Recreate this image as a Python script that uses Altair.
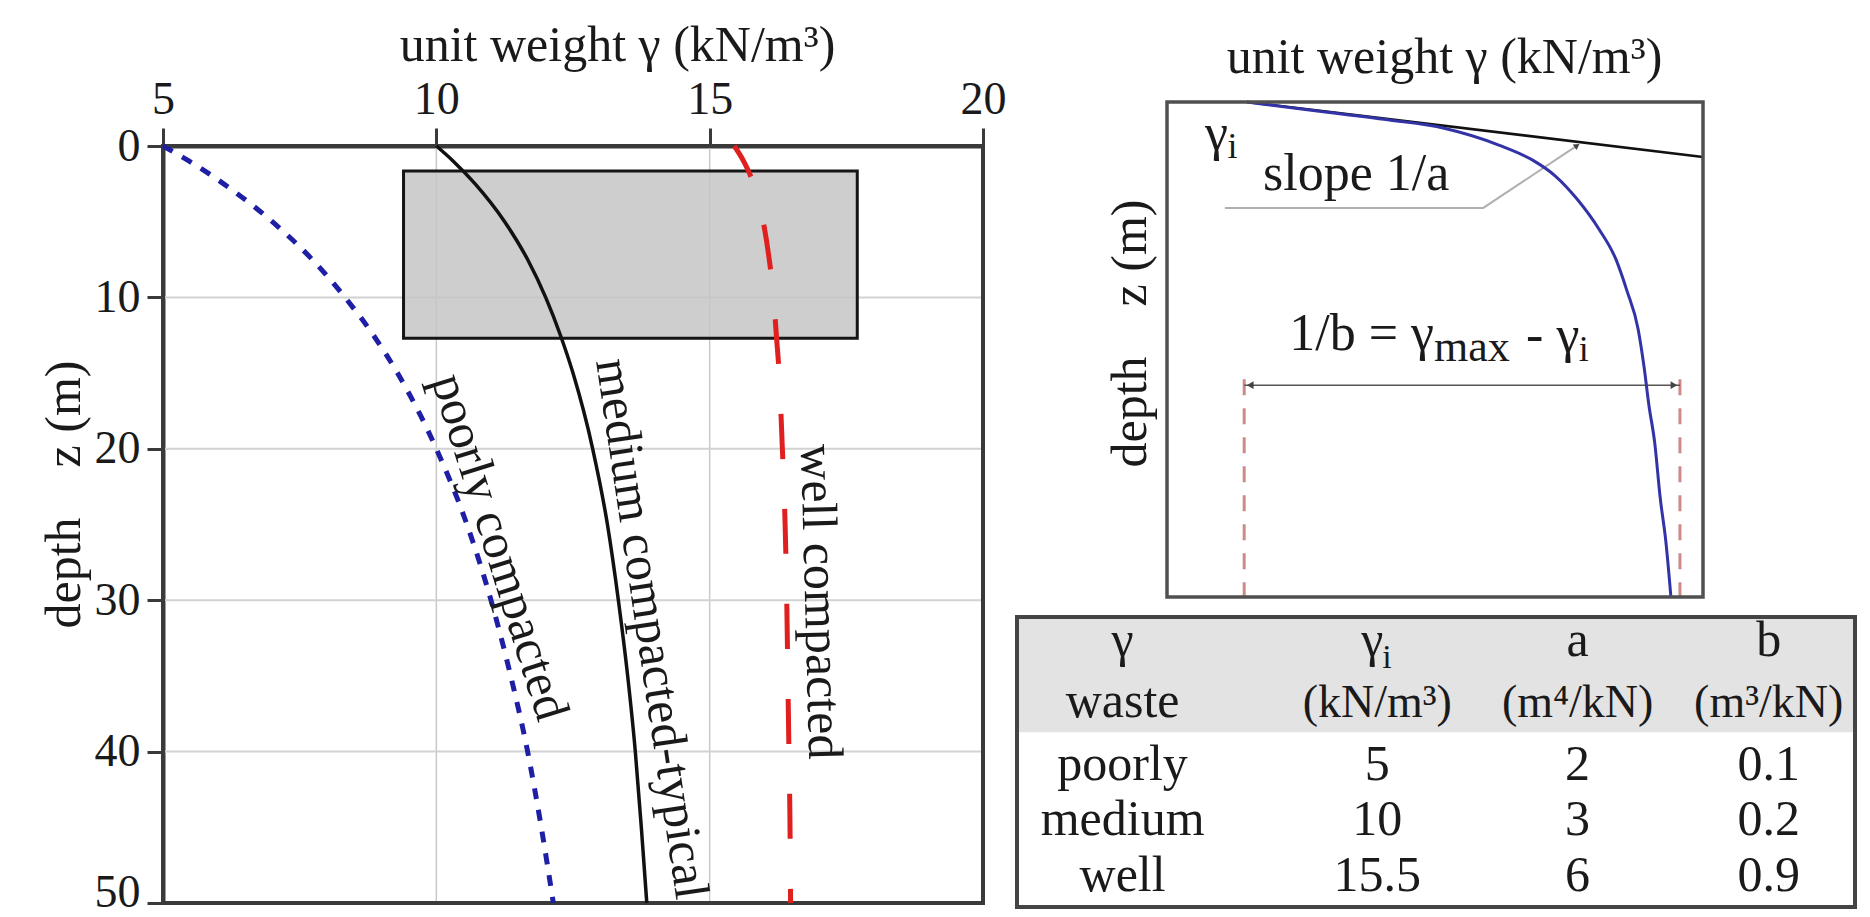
import altair as alt
import pandas as pd

FONT = "Liberation Serif"
INK = "#1a1a1a"
FRAME = "#3a3a3a"

# ---------------- left panel: unit weight vs depth ----------------
DEPTH_M = [0, 1, 2.5, 5, 7.5, 10, 12.5, 15, 20, 25, 30, 35, 40, 45, 50]
GAMMA_POORLY = [5.00, 5.48, 6.11, 7.00, 7.73, 8.33, 8.85, 9.29, 10.00, 10.56, 11.00, 11.36, 11.67, 11.92, 12.14]
GAMMA_MEDIUM = [10.00, 10.31, 10.71, 11.25, 11.67, 12.00, 12.27, 12.50, 12.86, 13.13, 13.33, 13.50, 13.64, 13.75, 13.85]
GAMMA_WELL = [15.45, 15.62, 15.80, 15.98, 16.09, 16.17, 16.22, 16.27, 16.33, 16.38, 16.41, 16.43, 16.45, 16.47, 16.48]

X_TICKS = [5, 10, 15, 20]
Y_TICKS = [0, 10, 20, 30, 40, 50]

TYPICAL_GAMMA = [9.4, 17.7]
TYPICAL_DEPTH = [1.65, 12.7]

CURVE_NAMES = ["poorly compacted", "medium compacted-typical", "well compacted"]
CURVE_LABEL_GAMMA = [11.15, 13.93, 17.02]
CURVE_LABEL_DEPTH = [26.5, 31.9, 30.1]
CURVE_LABEL_ANGLE = [72.7, 81.5, 88.5]

# ---------------- right panel: schematic (normalised 0-100 units) ----------------
SCHEM_GAMMA = [14.9, 28.0, 41.2, 51.7, 61.9, 68.3, 72.4, 76.5, 80.6, 83.8, 85.8, 87.9, 89.0, 89.9, 91.0, 92.0, 93.1, 94.0]
SCHEM_DEPTH = [0.0, 1.8, 3.6, 5.3, 8.7, 11.8, 14.9, 19.6, 25.7, 31.9, 38.1, 45.9, 53.5, 61.2, 68.9, 79.8, 89.1, 99.8]
TANGENT_GAMMA = [14.9, 100.0]
TANGENT_DEPTH = [0.0, 11.1]
LEADER_GAMMA = [10.8, 59.0, 76.5]
LEADER_DEPTH = [21.4, 21.4, 8.8]
GAMMA_I_MARK = 14.4
GAMMA_MAX_MARK = 95.7
MARKER_DEPTH = [56.0, 100.0]
DIM_DEPTH = 57.2

# ---------------- table ----------------
WASTE = ["poorly", "medium", "well"]
GAMMA_I = [5, 10, 15.5]
A_PARAM = [2, 3, 6]
B_PARAM = [0.1, 0.2, 0.9]
HEAD_SYMBOL = ["γ", "γ", "a", "b"]
HEAD_UNIT = ["waste", "(kN/m³)", "(m⁴/kN)", "(m³/kN)"]

# ---------------- layout (pixels / normalised units) ----------------
UNIT = [0, 100]
LEFT_X_RANGE = [163, 983]
LEFT_Y_RANGE = [146, 903]
RIGHT_X_RANGE = [1167, 1703]
RIGHT_Y_RANGE = [102, 597]
TABLE_X_RANGE = [1017, 1855]
TABLE_Y_RANGE = [617, 907]
TABLE_COL_X = [12.6, 43.0, 66.9, 89.7]
TABLE_HEAD_BASE = [13.4, 34.5]
TABLE_ROW_BASE = [56.2, 75.2, 94.5]
TABLE_HEAD_BOTTOM = 39.7


def sc(domain, rng):
    return alt.Scale(domain=domain, range=rng, nice=False, zero=False)


xs_l = sc([X_TICKS[0], X_TICKS[-1]], LEFT_X_RANGE)
ys_l = sc([Y_TICKS[0], Y_TICKS[-1]], LEFT_Y_RANGE)
xs_r = sc(UNIT, RIGHT_X_RANGE)
ys_r = sc(UNIT, RIGHT_Y_RANGE)
xs_t = sc(UNIT, TABLE_X_RANGE)
ys_t = sc(UNIT, TABLE_Y_RANGE)


def X(field, scale):
    return alt.X(field, scale=scale, axis=None)


def Y(field, scale):
    return alt.Y(field, scale=scale, axis=None)


def texts(df, xs, ys, size, align="left", baseline="alphabetic", color=INK):
    return alt.Chart(df).mark_text(font=FONT, fontSize=size, align=align,
                                   baseline=baseline, color=color).encode(
        x=X("x:Q", xs), y=Y("y:Q", ys), text="t:N")


# ================= LEFT PANEL =================
frame_df = pd.DataFrame({"g0": [X_TICKS[0]], "g1": [X_TICKS[-1]],
                         "z0": [Y_TICKS[0]], "z1": [Y_TICKS[-1]]})
frame_l = alt.Chart(frame_df).mark_rect(fill="white", fillOpacity=0, stroke=FRAME, strokeWidth=4).encode(
    x=alt.X("g0:Q", scale=xs_l, axis=alt.Axis(
        orient="top", offset=-LEFT_Y_RANGE[0], values=X_TICKS, format="d", grid=False,
        domain=True, domainColor=FRAME, domainWidth=4,
        ticks=True, tickSize=18, tickColor=FRAME, tickWidth=3,
        labelFont=FONT, labelFontSize=46, labelColor=INK, labelPadding=5,
        labelFlush=False, labelOverlap=False,
        title="unit weight γ (kN/m³)", titleFont=FONT, titleFontSize=50,
        titleFontWeight="normal", titleColor=INK, titleX=617, titleY=-86,
        titleAlign="center", titleBaseline="alphabetic")),
    x2="g1:Q",
    y=alt.Y("z0:Q", scale=ys_l, axis=alt.Axis(
        orient="left", offset=-LEFT_X_RANGE[0], values=Y_TICKS, format="d", grid=False,
        domain=True, domainColor=FRAME, domainWidth=4,
        ticks=True, tickSize=16, tickColor=FRAME, tickWidth=3,
        labelFont=FONT, labelFontSize=46, labelColor=INK, labelPadding=7,
        labelOverlap=False,
        labelOffset={"condition": {"test": f"datum.value == {Y_TICKS[-1]}", "value": -11}, "value": 0},
        title="depth\u00a0\u00a0\u00a0\u00a0z (m)", titleFont=FONT, titleFontSize=50,
        titleFontWeight="normal", titleColor=INK, titleAngle=270,
        titleX=-99, titleY=494, titleAlign="center", titleBaseline="middle")),
    y2="z1:Q",
)

vgrid = alt.Chart(pd.DataFrame({"g": X_TICKS[1:-1], "z0": Y_TICKS[0], "z1": Y_TICKS[-1]})).mark_rule(
    color="#c9c9c9", strokeWidth=1.5).encode(x=X("g:Q", xs_l), y=Y("z0:Q", ys_l), y2="z1:Q")
hgrid = alt.Chart(pd.DataFrame({"z": Y_TICKS[1:-1], "g0": X_TICKS[0], "g1": X_TICKS[-1]})).mark_rule(
    color="#d2d2d2", strokeWidth=2).encode(y=Y("z:Q", ys_l), x=X("g0:Q", xs_l), x2="g1:Q")

typ_df = pd.DataFrame({"g0": [TYPICAL_GAMMA[0]], "g1": [TYPICAL_GAMMA[1]],
                       "z0": [TYPICAL_DEPTH[0]], "z1": [TYPICAL_DEPTH[1]]})
typ_box = alt.Chart(typ_df).mark_rect(fill="#c6c6c6", fillOpacity=0.85, stroke="#151515", strokeWidth=3).encode(
    x=X("g0:Q", xs_l), x2="g1:Q", y=Y("z0:Q", ys_l), y2="z1:Q")


def curve(vals, color, width, dash=None, offset=None):
    df = pd.DataFrame({"z": DEPTH_M, "g": vals})
    kw = dict(color=color, strokeWidth=width, interpolate="monotone", strokeCap="butt")
    if dash is not None:
        kw["strokeDash"] = dash
    if offset is not None:
        kw["strokeDashOffset"] = offset
    return alt.Chart(df).mark_line(**kw).encode(x=X("g:Q", xs_l), y=Y("z:Q", ys_l), order="z:Q")


poorly = curve(GAMMA_POORLY, "#1f1fa6", 5, [11, 11])
medium = curve(GAMMA_MEDIUM, "#111111", 3.5)
well = curve(GAMMA_WELL, "#e0201e", 5, [45, 50], 10)

lab_df = pd.DataFrame({"t": CURVE_NAMES, "x": CURVE_LABEL_GAMMA, "y": CURVE_LABEL_DEPTH, "a": CURVE_LABEL_ANGLE})
curve_labels = alt.Chart(lab_df).mark_text(font=FONT, fontSize=50, align="center", baseline="middle", color=INK).encode(
    x=X("x:Q", xs_l), y=Y("y:Q", ys_l), text="t:N", angle=alt.Angle("a:Q", scale=None))

left_layers = [vgrid, hgrid, typ_box, frame_l, poorly, medium, well, curve_labels]

# ================= RIGHT PANEL =================
box_df = pd.DataFrame({"x0": [UNIT[0]], "x1": [UNIT[1]], "y0": [UNIT[0]], "y1": [UNIT[1]]})
frame_r = alt.Chart(box_df).mark_rect(fill="white", fillOpacity=0, stroke="#505050", strokeWidth=3.5).encode(
    x=alt.X("x0:Q", scale=xs_r, axis=alt.Axis(
        orient="top", offset=0, domain=False, ticks=False, labels=False, grid=False,
        title="unit weight γ (kN/m³)", titleFont=FONT, titleFontSize=50, titleFontWeight="normal",
        titleColor=INK, titleX=1444, titleY=72, titleAlign="center", titleBaseline="alphabetic")),
    x2="x1:Q",
    y=alt.Y("y0:Q", scale=ys_r, axis=alt.Axis(
        orient="left", offset=0, domain=False, ticks=False, labels=False, grid=False,
        title="depth\u00a0\u00a0\u00a0\u00a0z (m)", titleFont=FONT, titleFontSize=50, titleFontWeight="normal",
        titleColor=INK, titleAngle=270, titleX=1130, titleY=333, titleAlign="center", titleBaseline="middle")),
    y2="y1:Q",
)

markers = alt.Chart(pd.DataFrame({"x": [GAMMA_I_MARK, GAMMA_MAX_MARK], "y0": MARKER_DEPTH[0], "y1": MARKER_DEPTH[1]})).mark_rule(
    color="#cc8a8a", strokeWidth=3, strokeDash=[16, 13]).encode(x=X("x:Q", xs_r), y=Y("y0:Q", ys_r), y2="y1:Q")

schem_curve = alt.Chart(pd.DataFrame({"x": SCHEM_GAMMA, "y": SCHEM_DEPTH})).mark_line(
    color="#3333a8", strokeWidth=3, interpolate="monotone").encode(x=X("x:Q", xs_r), y=Y("y:Q", ys_r), order="y:Q")

tangent = alt.Chart(pd.DataFrame({"x": TANGENT_GAMMA, "y": TANGENT_DEPTH})).mark_line(
    color="#111111", strokeWidth=2.5).encode(x=X("x:Q", xs_r), y=Y("y:Q", ys_r))

leader = alt.Chart(pd.DataFrame({"x": LEADER_GAMMA, "y": LEADER_DEPTH, "o": [0, 1, 2]})).mark_line(
    color="#b0b0b0", strokeWidth=2).encode(x=X("x:Q", xs_r), y=Y("y:Q", ys_r), order="o:Q")
leader_head = alt.Chart(pd.DataFrame({"x": [LEADER_GAMMA[-1]], "y": [LEADER_DEPTH[-1]]})).mark_point(
    shape="triangle-up", angle=56, size=45, filled=True, color="#444444", opacity=1).encode(
    x=X("x:Q", xs_r), y=Y("y:Q", ys_r))

dim_line = alt.Chart(pd.DataFrame({"x0": [GAMMA_I_MARK], "x1": [GAMMA_MAX_MARK], "y": [DIM_DEPTH]})).mark_rule(
    color="#555555", strokeWidth=1.5).encode(x=X("x0:Q", xs_r), x2="x1:Q", y=Y("y:Q", ys_r))
head_l = alt.Chart(pd.DataFrame({"x": [GAMMA_I_MARK], "y": [DIM_DEPTH]})).mark_point(
    shape="triangle-left", size=60, filled=True, color="#444444", opacity=1, xOffset=6).encode(
    x=X("x:Q", xs_r), y=Y("y:Q", ys_r))
head_r = alt.Chart(pd.DataFrame({"x": [GAMMA_MAX_MARK], "y": [DIM_DEPTH]})).mark_point(
    shape="triangle-right", size=60, filled=True, color="#444444", opacity=1, xOffset=-6).encode(
    x=X("x:Q", xs_r), y=Y("y:Q", ys_r))

big_txt = texts(pd.DataFrame({"t": ["γ", "slope 1/a", "1/b = γ", "-\u00a0γ"],
                              "x": [7.1, 17.9, 22.8, 67.0], "y": [9.7, 17.8, 50.1, 50.5]}), xs_r, ys_r, 52)
sub_txt = alt.Chart(pd.DataFrame({"t": ["i", "max", "i"], "x": [11.3, 49.8, 76.8], "y": [11.3, 52.3, 52.3],
                                  "s": [36, 44, 36]})).mark_text(font=FONT, align="left", baseline="alphabetic", color=INK).encode(
    x=X("x:Q", xs_r), y=Y("y:Q", ys_r), text="t:N", size=alt.Size("s:Q", scale=None))

right_layers = [markers, dim_line, head_l, head_r, leader, leader_head, tangent, schem_curve,
                frame_r, big_txt, sub_txt]

# ================= TABLE =================
head_fill = alt.Chart(pd.DataFrame({"x0": [UNIT[0]], "x1": [UNIT[1]], "y0": [UNIT[0]], "y1": [TABLE_HEAD_BOTTOM]})).mark_rect(
    fill="#e3e3e3").encode(x=X("x0:Q", xs_t), x2="x1:Q", y=Y("y0:Q", ys_t), y2="y1:Q")
table_border = alt.Chart(box_df).mark_rect(fill="white", fillOpacity=0, stroke="#444444", strokeWidth=4).encode(
    x=X("x0:Q", xs_t), x2="x1:Q", y=Y("y0:Q", ys_t), y2="y1:Q")

head_sym = texts(pd.DataFrame({"t": HEAD_SYMBOL, "x": [TABLE_COL_X[0], TABLE_COL_X[1] - 0.6, TABLE_COL_X[2], TABLE_COL_X[3]],
                               "y": TABLE_HEAD_BASE[0]}), xs_t, ys_t, 50, align="center")
head_sub = texts(pd.DataFrame({"t": ["i"], "x": [TABLE_COL_X[1] + 0.6], "y": [17.6]}), xs_t, ys_t, 34)
head_unit = alt.Chart(pd.DataFrame({"t": HEAD_UNIT, "x": TABLE_COL_X, "y": TABLE_HEAD_BASE[1],
                                    "s": [50, 46, 46, 46]})).mark_text(font=FONT, align="center", baseline="alphabetic", color=INK).encode(
    x=X("x:Q", xs_t), y=Y("y:Q", ys_t), text="t:N", size=alt.Size("s:Q", scale=None))

rows = []
for r, name in enumerate(WASTE):
    vals = [name, f"{GAMMA_I[r]:g}", f"{A_PARAM[r]:g}", f"{B_PARAM[r]:g}"]
    for c, v in enumerate(vals):
        rows.append({"t": v, "x": TABLE_COL_X[c], "y": TABLE_ROW_BASE[r]})
body = texts(pd.DataFrame(rows), xs_t, ys_t, 50, align="center")

table_layers = [head_fill, table_border, head_sym, head_sub, head_unit, body]

chart = alt.layer(*left_layers, *right_layers, *table_layers).resolve_scale(
    x="independent", y="independent"
).properties(
    width=1870, height=917, padding=0,
    autosize=alt.AutoSizeParams(type="none"), background="white",
).configure_view(strokeWidth=0)

chart.save("out.html", embed_options={"renderer": "svg", "actions": False})
